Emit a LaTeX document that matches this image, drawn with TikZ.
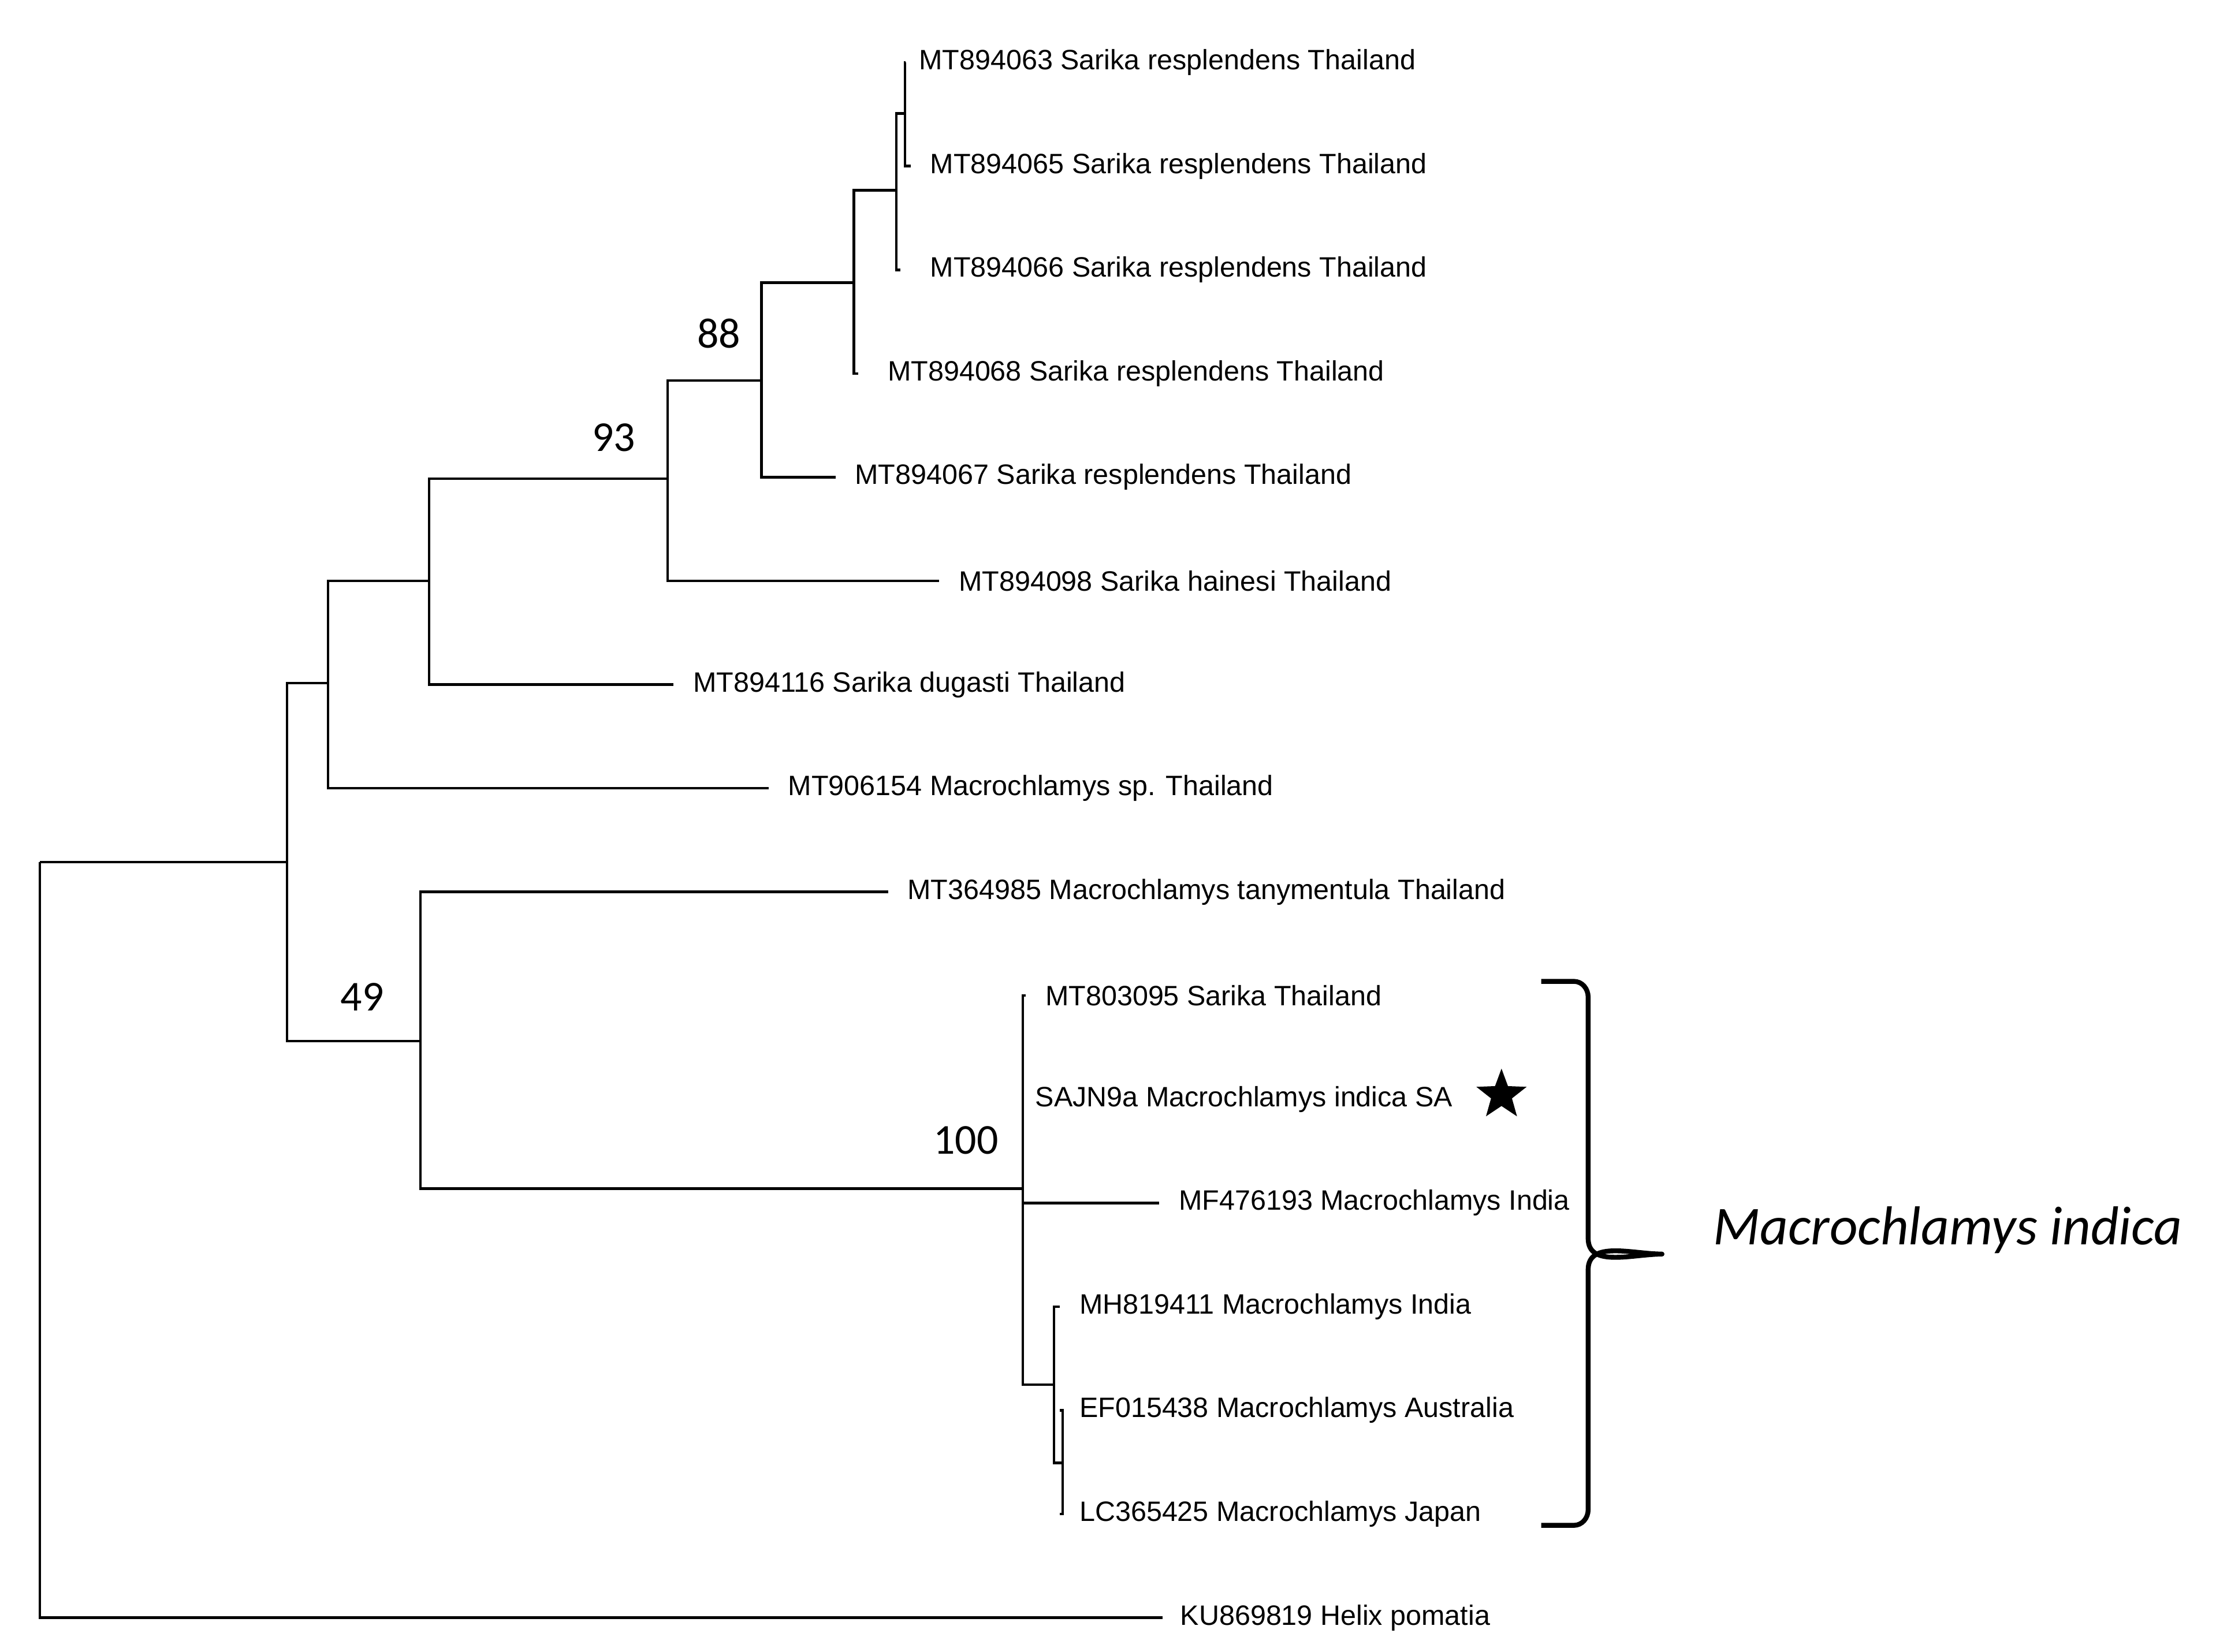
\documentclass[tikz,border=0pt]{standalone}
\usepackage{fontspec}
\setmainfont{Liberation Sans}
\newfontfamily\carlitofont{Carlito}
\usetikzlibrary{shapes.geometric}
\begin{document}
\begin{tikzpicture}[x=0.246mm,y=-0.246mm,line width=1.3pt,
  leaf/.style={anchor=west,inner sep=0pt,font=\fontsize{13.8}{15}\selectfont},
  boot/.style={font=\carlitofont\fontsize{21}{24}\selectfont,inner sep=0pt}]
\useasboundingbox (0,0) rectangle (1560,1163);
% internal nodes (x, attachment y)
\coordinate (R) at (28,607);
\coordinate (A) at (202,607);
\coordinate (B) at (231,481);
\coordinate (C) at (302,409);
\coordinate (D) at (470,337);
\coordinate (E) at (536,268);
\coordinate (F) at (601,199);
\coordinate (G) at (631,134);
\coordinate (H) at (637,80);
\coordinate (I) at (296,733);
\coordinate (J) at (720,837);
\coordinate (K) at (742,975);
\coordinate (L) at (748,1030);
% leaves
\node[leaf] (l1) at (646,44) {MT894063 Sarika resplendens Thailand};
\node[leaf] (l2) at (654,117) {MT894065 Sarika resplendens Thailand};
\node[leaf] (l3) at (654,190) {MT894066 Sarika resplendens Thailand};
\node[leaf] (l4) at (624,263) {MT894068 Sarika resplendens Thailand};
\node[leaf] (l5) at (601,336) {MT894067 Sarika resplendens Thailand};
\node[leaf] (l6) at (674,409) {MT894098 Sarika hainesi Thailand};
\node[leaf] (l7) at (487,482) {MT894116 Sarika dugasti Thailand};
\node[leaf] (l8) at (554,555) {MT906154 Macrochlamys sp. Thailand};
\node[leaf] (l9) at (638,628) {MT364985 Macrochlamys tanymentula Thailand};
\node[leaf] (l10) at (735,701) {MT803095 Sarika Thailand};
\node[leaf] (l11) at (728,774) {SAJN9a Macrochlamys indica SA};
\node[leaf] (l12) at (829,847) {MF476193 Macrochlamys India};
\node[leaf] (l13) at (759,920) {MH819411 Macrochlamys India};
\node[leaf] (l14) at (759,993) {EF015438 Macrochlamys Australia};
\node[leaf] (l15) at (759,1066) {LC365425 Macrochlamys Japan};
\node[leaf] (l16) at (830,1139) {KU869819 Helix pomatia};
% branches
\draw (R) |- ([xshift=-8]l16.west);
\draw (R) -- (A);
\draw (A) |- (B);
\draw (A) |- (I);
\draw (B) |- (C);
\draw (B) |- ([xshift=-9]l8.west);
\draw (C) |- (D);
\draw (C) |- ([xshift=-9]l7.west);
\draw (D) |- (E);
\draw (D) |- ([xshift=-9]l6.west);
\draw (E) |- (F);
\draw (E) |- ([xshift=-9]l5.west);
\draw (F) |- (G);
\draw (F) |- ([xshift=-14]l4.west);
\draw (G) |- (H);
\draw (G) |- ([xshift=-14]l3.west);
\draw (H) |- ([xshift=-6]l1.west);
\draw (H) |- ([xshift=-9]l2.west);
\draw (I) |- ([xshift=-9]l9.west);
\draw (I) |- (J);
\draw (J) |- ([xshift=-9]l10.west);
\draw (J) |- ([xshift=-9]l12.west);
\draw (J) |- (K);
\draw (K) |- ([xshift=-9]l13.west);
\draw (K) |- (L);
\draw (L) |- ([xshift=-9]l14.west);
\draw (L) |- ([xshift=-9]l15.west);
% bootstrap
\node[boot] (b88) at (506,235) {88};
\node[boot] (b93) at (432,308) {93};
\node[boot] (b49) at (255,702) {49};
\node[boot] (b100) at (680,803) {100};
\node[star,star points=5,star point ratio=2.4,fill=black,minimum size=26,inner sep=0pt] (st) at (1057,771) {};
% brace
\draw[line width=2.4pt,line join=round] (1085,691) -- (1108,691) to[out=0,in=90] (1118,702) -- (1118,872)
  to[out=-90,in=180] (1170,883) to[out=180,in=90] (1118,894) -- (1118,1063)
  to[out=-90,in=0] (1108,1074) -- (1085,1074);
\node[anchor=west,font=\carlitofont\itshape\fontsize{27}{30}\selectfont,inner sep=0pt] (mi) at (1205,866) {Macrochlamys indica};
\end{tikzpicture}
\end{document}
